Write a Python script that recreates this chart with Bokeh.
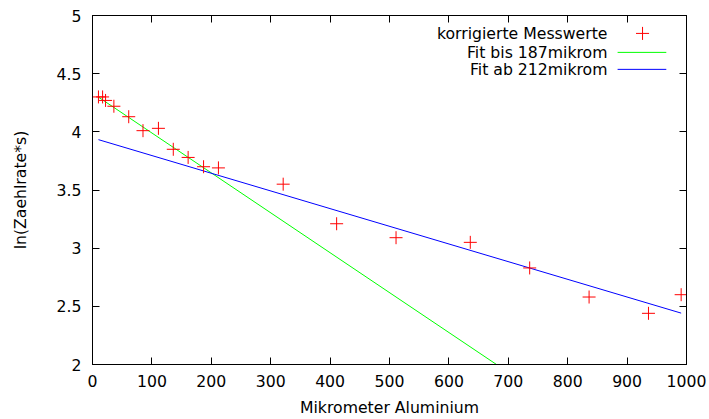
from bokeh.plotting import figure
from bokeh.models import (LinearAxis, FixedTicker, CustomJSTickFormatter, Label, Arrow, Range1d)
from bokeh.embed import file_html
from bokeh.resources import INLINE

# ---- data ----
thickness_um = [10, 17, 22, 36, 61, 85, 111, 136, 161, 187, 212, 321, 411, 511, 636, 736, 836, 936, 991]
ln_rate = [4.30, 4.30, 4.27, 4.22, 4.13, 4.01, 4.03, 3.85, 3.78, 3.70, 3.69, 3.55, 3.21, 3.09, 3.05, 2.83, 2.58, 2.44, 2.60]

# fit parameters (intercept, slope)
fit1_label = "Fit bis 187mikrom"
fit1_intercept, fit1_slope = 4.333, -0.00343
fit2_label = "Fit ab 212mikrom"
fit2_intercept, fit2_slope = 3.948, -0.00152
points_label = "korrigierte Messwerte"

x_ticks = [0, 100, 200, 300, 400, 500, 600, 700, 800, 900, 1000]
y_ticks = [2, 2.5, 3, 3.5, 4, 4.5, 5]

FONT = "DejaVu Sans"
FS = "15.7px"

p = figure(width=709, height=419, output_backend="svg", toolbar_location=None,
           x_range=Range1d(0, 1000), y_range=Range1d(2, 5),
           min_border_left=92, min_border_right=23, min_border_top=15, min_border_bottom=55)
p.grid.visible = False
p.outline_line_color = "black"
p.outline_line_width = 1
p.background_fill_color = "white"
p.border_fill_color = "white"

def style_axis(ax, show_labels=True):
    ax.axis_line_color = "black"
    ax.axis_line_width = 1
    ax.major_tick_in = 7
    ax.major_tick_out = 0
    ax.minor_tick_line_color = None
    ax.major_tick_line_color = "black"
    ax.major_label_text_font = FONT
    ax.major_label_text_font_size = FS
    ax.major_label_text_color = "black"
    ax.major_label_standoff = 11 if show_labels else 0
    ax.axis_label_text_font = FONT
    ax.axis_label_text_font_size = FS
    ax.axis_label_text_font_style = "normal"
    ax.axis_label_text_color = "black"

fmt = CustomJSTickFormatter(code="return String(tick);")
blank = CustomJSTickFormatter(code="return '';")

xa = p.xaxis[0]
xa.ticker = FixedTicker(ticks=x_ticks)
xa.formatter = fmt
xa.axis_label = "Mikrometer Aluminium"
xa.axis_label_standoff = 8
style_axis(xa)
xa.major_label_standoff = 10

ya = p.yaxis[0]
ya.ticker = FixedTicker(ticks=y_ticks)
ya.formatter = fmt
ya.axis_label = "ln(Zaehlrate*s)"
ya.axis_label_standoff = 24
style_axis(ya)

top = LinearAxis(ticker=FixedTicker(ticks=x_ticks), formatter=blank)
style_axis(top, show_labels=False)
p.add_layout(top, "above")
right = LinearAxis(ticker=FixedTicker(ticks=y_ticks), formatter=blank)
style_axis(right, show_labels=False)
p.add_layout(right, "right")

# fit lines over the data range
xmin, xmax = min(thickness_um), max(thickness_um)
fx = [xmin, xmax]
p.line(fx, [fit1_intercept + fit1_slope * v for v in fx], line_color="#00ff00", line_width=1)
p.line(fx, [fit2_intercept + fit2_slope * v for v in fx], line_color="#0000ff", line_width=1)

# measured points
p.scatter(thickness_um, ln_rate, marker="cross", size=13, line_color="#ff0000", line_width=1)

# gnuplot-style legend (text right-aligned, sample on the right)
lx_text = 867
rows_y = [4.846, 4.683, 4.537]
for label, yy in zip([points_label, fit1_label, fit2_label], rows_y):
    p.add_layout(Label(x=lx_text, y=yy, text=label, text_align="right", text_baseline="middle",
                       text_font=FONT, text_font_size=FS, text_color="black"))
# point sample (+)
cx = 926
p.add_layout(Arrow(end=None, x_start=cx - 11, y_start=rows_y[0], x_end=cx + 11, y_end=rows_y[0],
                   line_color="#ff0000", line_width=1))
p.add_layout(Arrow(end=None, x_start=cx, y_start=rows_y[0] - 0.056, x_end=cx, y_end=rows_y[0] + 0.056,
                   line_color="#ff0000", line_width=1))
p.add_layout(Arrow(end=None, x_start=884, y_start=rows_y[1], x_end=966, y_end=rows_y[1],
                   line_color="#00ff00", line_width=1))
p.add_layout(Arrow(end=None, x_start=884, y_start=rows_y[2], x_end=966, y_end=rows_y[2],
                   line_color="#0000ff", line_width=1))

open("out.html", "w").write(file_html(p, INLINE))
